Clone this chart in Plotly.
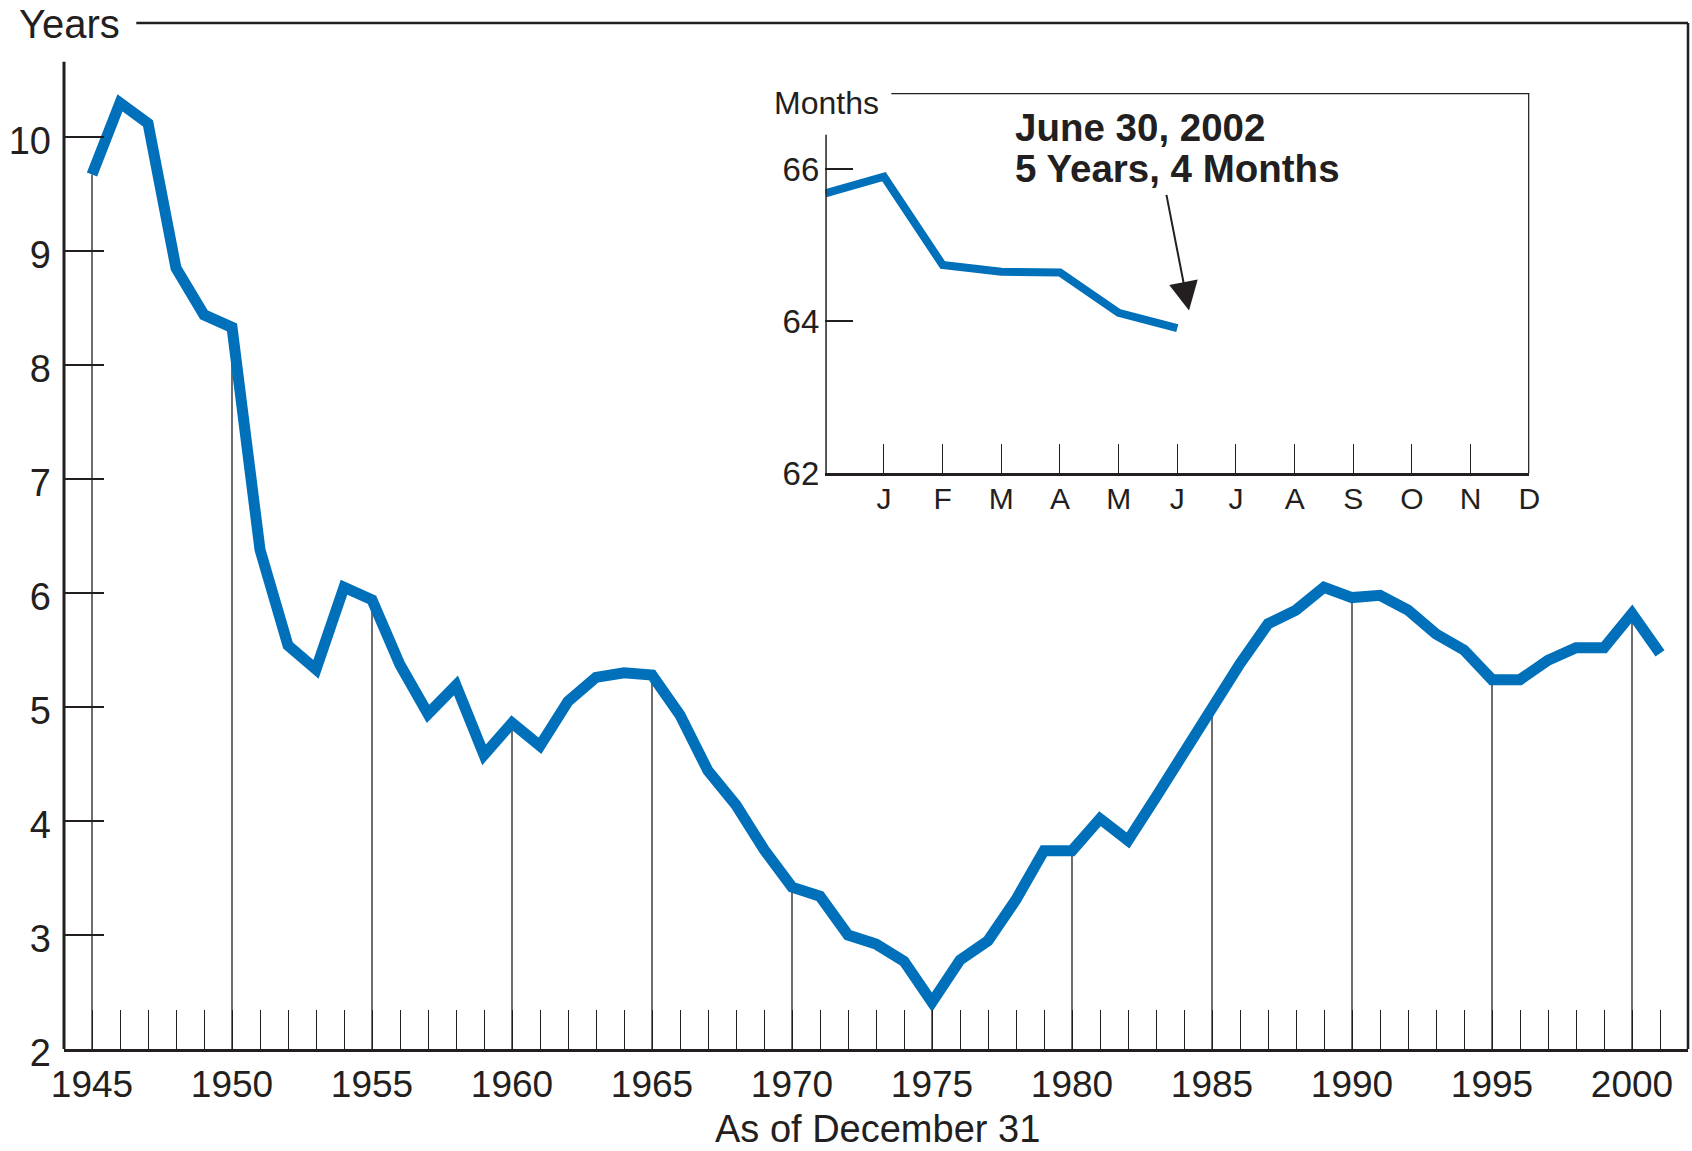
import plotly.graph_objects as go

# ---------------- data ----------------
YEARS = list(range(1945, 2002))
MATURITY_YEARS = [9.67, 10.30, 10.12, 8.85, 8.44, 8.33, 6.38, 5.54, 5.33, 6.05,
                  5.94, 5.37, 4.94, 5.19, 4.58, 4.86, 4.66, 5.05, 5.26, 5.30,
                  5.28, 4.93, 4.44, 4.14, 3.75, 3.42, 3.34, 3.00, 2.92, 2.77,
                  2.41, 2.78, 2.95, 3.31, 3.74, 3.74, 4.02, 3.83, 4.21, 4.61,
                  5.00, 5.38, 5.73, 5.85, 6.05, 5.96, 5.98, 5.85, 5.64, 5.50,
                  5.24, 5.24, 5.41, 5.52, 5.52, 5.82, 5.47]
X_TICKS = [1945, 1950, 1955, 1960, 1965, 1970, 1975, 1980, 1985, 1990, 1995, 2000]
Y_TICKS = [2, 3, 4, 5, 6, 7, 8, 9, 10]

INSET_POS = [0, 1, 2, 3, 4, 5, 6]          # 0 = Dec 2001, 1 = Jan 2002 ...
INSET_MONTHS_VAL = [65.68, 65.90, 64.74, 64.65, 64.64, 64.11, 63.91]
MONTH_LABELS = ["J", "F", "M", "A", "M", "J", "J", "A", "S", "O", "N", "D"]
INSET_Y_TICKS = [62, 64, 66]

# ---------------- geometry (pixel space of the picture) ----------------
W_FIG, H_FIG = 1692, 1151
P_LEFT, P_RIGHT, P_TOP, P_BOTTOM = 63.7, 1687.7, 22.7, 1049.0
PW = P_RIGHT - P_LEFT
PH = P_BOTTOM - P_TOP
M_L = P_LEFT
M_T = P_TOP
M_R = W_FIG - P_RIGHT
M_B = H_FIG - P_BOTTOM

INK = "#231f20"
BLUE = "#0070ba"
FONT = "Liberation Sans, Arial, Helvetica, sans-serif"


def px_x(px):
    return (px - P_LEFT) / PW


def px_y(py):
    return (P_BOTTOM - py) / PH


# inset placement (pixels)
IN_L, IN_R, IN_B, IN_T = 825, 1529, 473.3, 92.7

fig = go.Figure()

# drop lines every 5 years (from data)
dx, dy = [], []
for yr, v in zip(YEARS, MATURITY_YEARS):
    if yr in X_TICKS:
        dx += [yr, yr, None]
        dy += [v, Y_TICKS[0], None]
fig.add_trace(go.Scatter(x=dx, y=dy, mode="lines", line=dict(color=INK, width=1.3),
                         hoverinfo="skip", showlegend=False))

fig.add_trace(go.Scatter(x=YEARS, y=MATURITY_YEARS, mode="lines",
                         line=dict(color=BLUE, width=11), showlegend=False))

fig.add_trace(go.Scatter(x=INSET_POS, y=INSET_MONTHS_VAL, mode="lines",
                         line=dict(color=BLUE, width=8), showlegend=False,
                         xaxis="x2", yaxis="y2"))

fig.update_layout(
    width=W_FIG, height=H_FIG, autosize=False,
    margin=dict(l=M_L, r=M_R, t=M_T, b=M_B, pad=0),
    paper_bgcolor="white", plot_bgcolor="rgba(0,0,0,0)",
    font=dict(family=FONT, color=INK),
    showlegend=False,
    xaxis=dict(
        range=[1944, 2002], domain=[0, 1], anchor="y", automargin=False,
        tickvals=X_TICKS, ticktext=[str(v) for v in X_TICKS],
        ticks="inside", ticklen=39, tickwidth=1.3, tickcolor=INK,
        minor=dict(ticks="inside", ticklen=39, tickwidth=1.3, tickcolor=INK,
                   dtick=1, tick0=1944, showgrid=False),
        showline=True, linewidth=3, linecolor=INK,
        showgrid=False, zeroline=False,
        tickfont=dict(size=37, color=INK, family=FONT),
        ticklabelstandoff=1,
    ),
    yaxis=dict(
        range=[2, 11], domain=[0, 1], anchor="x", automargin=False,
        tickvals=Y_TICKS, ticktext=[str(v) for v in Y_TICKS],
        ticks="inside", ticklen=40, tickwidth=1.5, tickcolor=INK,
        showline=False, showgrid=False, zeroline=False,
        tickfont=dict(size=38, color=INK, family=FONT),
        ticklabelstandoff=12, ticklabelshift=4,
    ),
    xaxis2=dict(
        range=[0, 12], domain=[px_x(IN_L), px_x(IN_R)], anchor="y2", automargin=False,
        tickvals=list(range(1, 13)), ticktext=MONTH_LABELS,
        ticks="inside", ticklen=29, tickwidth=1.3, tickcolor=INK,
        showline=True, linewidth=3, linecolor=INK,
        showgrid=False, zeroline=False,
        tickfont=dict(size=30, color=INK, family=FONT),
        ticklabelstandoff=-3,
    ),
    yaxis2=dict(
        range=[62, 67], domain=[px_y(IN_B), px_y(IN_T)], anchor="x2", automargin=False,
        tickvals=INSET_Y_TICKS, ticktext=[str(v) for v in INSET_Y_TICKS],
        ticks="inside", ticklen=28, tickwidth=1.5, tickcolor=INK,
        showline=False, showgrid=False, zeroline=False,
        tickfont=dict(size=33, color=INK, family=FONT),
        ticklabelstandoff=5,
    ),
)

shapes = [
    # main y axis line (stops below the "Years" label)
    dict(type="line", xref="paper", yref="y", x0=0, x1=0, y0=2, y1=10.66,
         line=dict(color=INK, width=3)),
    # main top frame
    dict(type="line", xref="paper", yref="paper", x0=px_x(136), x1=1, y0=1, y1=1,
         line=dict(color=INK, width=2.5)),
    # main right frame
    dict(type="line", xref="paper", yref="paper", x0=1, x1=1, y0=0, y1=1,
         line=dict(color=INK, width=2.5)),
    # inset y axis
    dict(type="line", xref="x2", yref="y2", x0=0, x1=0, y0=62, y1=66.45,
         line=dict(color=INK, width=3)),
    # inset top frame
    dict(type="line", xref="x2", yref="y2", x0=1.125, x1=12, y0=67, y1=67,
         line=dict(color=INK, width=2.5)),
    # inset right frame
    dict(type="line", xref="x2", yref="y2", x0=12, x1=12, y0=62, y1=67,
         line=dict(color=INK, width=2.5)),
]
fig.update_layout(shapes=shapes)

annotations = [
    dict(text="Years", xref="paper", yref="paper", x=px_x(69), y=px_y(23.7),
         xanchor="center", yanchor="middle", showarrow=False,
         font=dict(size=40, color=INK, family=FONT)),
    dict(text="As of December 31", xref="paper", yref="paper", x=px_x(877), y=px_y(1129),
         xanchor="center", yanchor="middle", showarrow=False,
         font=dict(size=38, color=INK, family=FONT)),
    dict(text="Months", xref="paper", yref="paper", x=px_x(826), y=px_y(102.5),
         xanchor="center", yanchor="middle", showarrow=False,
         font=dict(size=32, color=INK, family=FONT)),
    dict(text="<b>June 30, 2002</b>", xref="paper", yref="paper", x=px_x(1013), y=px_y(127),
         xanchor="left", yanchor="middle", showarrow=False,
         font=dict(size=38.5, color=INK, family=FONT)),
    dict(text="<b>5 Years, 4 Months</b>", xref="paper", yref="paper", x=px_x(1013), y=px_y(168),
         xanchor="left", yanchor="middle", showarrow=False,
         font=dict(size=38.5, color=INK, family=FONT)),
    # arrow
    dict(text="", xref="x2", yref="y2", x=6.20, y=64.14,
         axref="x2", ayref="y2", ax=5.81, ay=65.68,
         showarrow=True, arrowhead=2, arrowsize=2.9, arrowwidth=2, arrowcolor=INK),
]
fig.update_layout(annotations=annotations)

# remove the page's default body margin / scrollbars so the figure fills the window
POST = ("document.documentElement.style.margin='0';"
        "document.documentElement.style.overflow='hidden';"
        "document.body.style.margin='0';document.body.style.padding='0';"
        "document.body.style.overflow='hidden';")
fig.write_html("out.html", post_script=POST, config={"displayModeBar": False})
